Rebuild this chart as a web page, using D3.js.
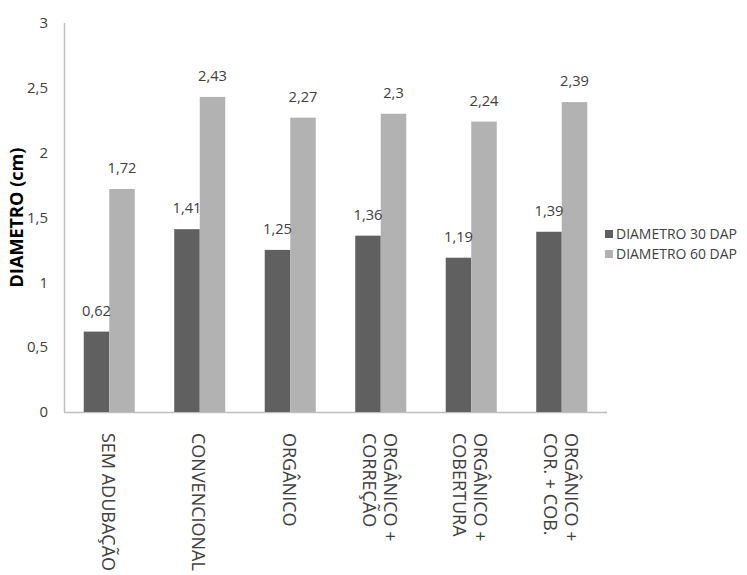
<!DOCTYPE html>
<html>
<head>
<meta charset="utf-8">
<script src="https://cdn.jsdelivr.net/npm/d3@7"></script>
<style>
  html, body { margin: 0; padding: 0; background: #fff; }
  svg { display: block; }
  text { font-family: "Open Sans", "Noto Sans", sans-serif; fill: #404040; }
</style>
</head>
<body>
<svg id="chart" width="747" height="575"></svg>
<script>
// Treatments (each label split into the lines it is drawn on)
const categories = ["SEM ADUBAÇÃO", "CONVENCIONAL", "ORGÂNICO", "ORGÂNICO + CORREÇÃO", "ORGÂNICO + COBERTURA", "ORGÂNICO + COR. + COB."];
const categoryLines = [["SEM ADUBAÇÃO"], ["CONVENCIONAL"], ["ORGÂNICO"], ["ORGÂNICO +", "CORREÇÃO"], ["ORGÂNICO +", "COBERTURA"], ["ORGÂNICO +", "COR. + COB."]];

// Stem diameter (cm) at 30 and 60 days after planting
const diametro30 = [0.62, 1.41, 1.25, 1.36, 1.19, 1.39];
const diametro60 = [1.72, 2.43, 2.27, 2.30, 2.24, 2.39];

const seriesNames = ["DIAMETRO 30 DAP", "DIAMETRO 60 DAP"];
const seriesColors = ["#606060", "#b2b2b2"];
const yTicks = [0, 0.5, 1, 1.5, 2, 2.5, 3];
const yTitle = "DIAMETRO (cm)";

const svg = d3.select("#chart");
const plot = { left: 64, right: 607, top: 23, bottom: 412 };

// Pick a font size so that a sample string spans the wanted width
function fitSize(sample, width, weight, fallback) {
  const t = svg.append("text")
    .style("font-size", "20px")
    .style("font-weight", weight || "normal")
    .text(sample);
  const w = t.node().getComputedTextLength();
  t.remove();
  if (!w) return fallback;
  return Math.max(fallback * 0.8, Math.min(fallback * 1.3, 20 * width / w));
}

const tickSize = fitSize("2,5", 21, "normal", 15);
const valueSize = fitSize("1,72", 29, "normal", 15);
const legendSize = fitSize("DIAMETRO 30 DAP", 121, "normal", 16);
const catSize = fitSize("CONVENCIONAL", 138, "normal", 18);
const titleSize = fitSize(yTitle, 140, "bold", 18);

const x = d3.scaleBand()
  .domain(categories)
  .range([plot.left, plot.right])
  .paddingInner(0.436)
  .paddingOuter(0.218);

const x1 = d3.scaleBand()
  .domain([0, 1])
  .range([0, x.bandwidth()]);

const y = d3.scaleLinear().domain([0, 3]).range([plot.bottom, plot.top]);

const fmt = v => String(v).replace(".", ",");

// Axes
const axisColor = "#bfbfbf";
svg.append("line")
  .attr("x1", plot.left + 0.5).attr("x2", plot.left + 0.5)
  .attr("y1", plot.top).attr("y2", plot.bottom)
  .attr("stroke", axisColor).attr("stroke-width", 1.5);
svg.append("line")
  .attr("x1", plot.left).attr("x2", plot.right)
  .attr("y1", plot.bottom + 0.5).attr("y2", plot.bottom + 0.5)
  .attr("stroke", axisColor).attr("stroke-width", 1.5);

// Y tick labels
svg.append("g").selectAll("text")
  .data(yTicks)
  .join("text")
  .attr("x", 48)
  .attr("y", d => y(d))
  .attr("dy", "0.35em")
  .attr("text-anchor", "end")
  .style("font-size", tickSize + "px")
  .text(d => fmt(d));

// Y title
svg.append("text")
  .attr("transform", `translate(17,${(plot.top + plot.bottom) / 2}) rotate(-90)`)
  .attr("dy", "0.35em")
  .attr("text-anchor", "middle")
  .style("font-size", titleSize + "px")
  .style("font-weight", "bold")
  .style("fill", "#000")
  .text(yTitle);

// Bars
const series = [diametro30, diametro60];
const rows = [];
categories.forEach((c, i) => {
  series.forEach((s, k) => rows.push({ cat: c, k, v: s[i] }));
});

svg.append("g").selectAll("rect")
  .data(rows)
  .join("rect")
  .attr("x", d => x(d.cat) + x1(d.k))
  .attr("y", d => y(d.v))
  .attr("width", x1.bandwidth())
  .attr("height", d => y(0) - y(d.v))
  .attr("fill", d => seriesColors[d.k]);

// Value labels
svg.append("g").selectAll("text")
  .data(rows)
  .join("text")
  .attr("x", d => x(d.cat) + x1(d.k) + x1.bandwidth() / 2)
  .attr("y", d => y(d.v) - 16)
  .attr("text-anchor", "middle")
  .style("font-size", valueSize + "px")
  .text(d => fmt(d.v));

// Category labels, rotated to read top to bottom
const catG = svg.append("g");
categories.forEach((c, i) => {
  const lines = categoryLines[i];
  const cx = x(c) + x.bandwidth() / 2;
  const spacing = 21;
  lines.forEach((line, j) => {
    const offset = (lines.length - 1) / 2 * spacing - j * spacing;
    catG.append("text")
      .attr("transform", `translate(${cx + offset - 1},433) rotate(90)`)
      .attr("dy", "0.35em")
      .attr("text-anchor", "start")
      .style("font-size", catSize + "px")
      .text(line);
  });
});

// Legend
const legend = svg.append("g");
seriesNames.forEach((name, k) => {
  const ly = 234 + k * 20;
  legend.append("rect")
    .attr("x", 605).attr("y", ly - 4)
    .attr("width", 8).attr("height", 8)
    .attr("fill", seriesColors[k]);
  legend.append("text")
    .attr("x", 616).attr("y", ly)
    .attr("dy", "0.35em")
    .style("font-size", legendSize + "px")
    .text(name);
});
</script>
</body>
</html>
